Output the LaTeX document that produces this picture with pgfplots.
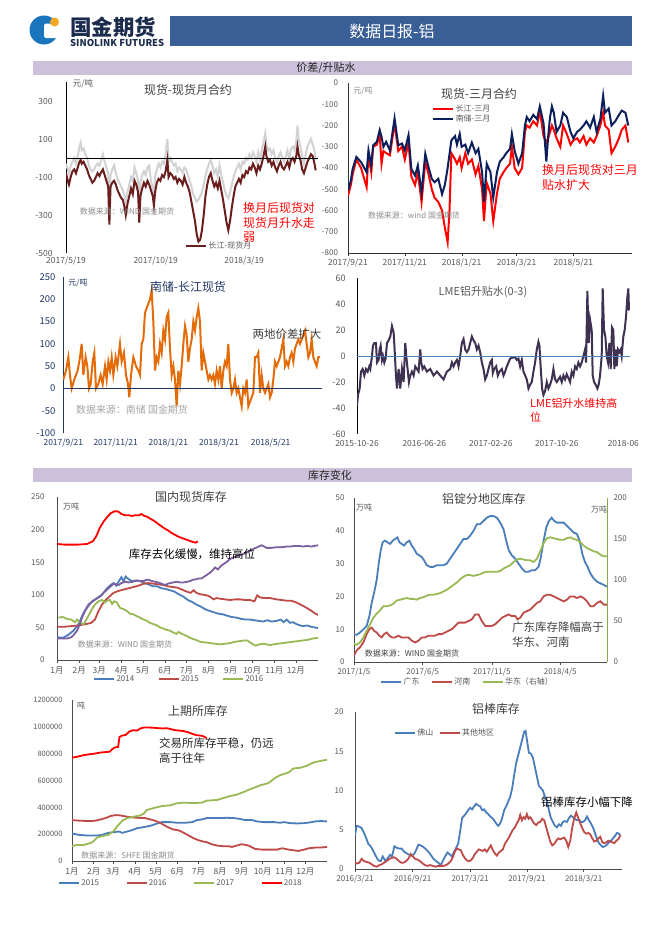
\documentclass[border=0pt]{standalone}
\usepackage{pgfplots}
\pgfplotsset{compat=1.18}
\usepackage{fontspec}
\setmainfont{Noto Sans CJK SC}
\newcommand{\fz}[1]{\fontsize{#1}{#1}\selectfont}
\definecolor{hdrblue}{HTML}{3A5F96}
\definecolor{lav}{HTML}{CCC1DA}
\definecolor{logoblue}{HTML}{1B75BC}
\definecolor{logoorg}{HTML}{F5A623}
\definecolor{logotxt}{HTML}{1A2B4C}
\definecolor{maroonx}{HTML}{6B1E1E}
\definecolor{lgray}{HTML}{D2D2D2}
\definecolor{navyx}{HTML}{0B1F5C}
\definecolor{orng}{HTML}{E36C09}
\definecolor{lmep}{HTML}{3F3151}
\definecolor{xblue}{HTML}{4A7EBB}
\definecolor{xbrick}{HTML}{BE4B48}
\definecolor{xgreen}{HTML}{98B954}
\definecolor{xolive}{HTML}{8AA84A}
\definecolor{xpurple}{HTML}{7D60A0}
\definecolor{navytxt}{HTML}{1F3864}
\definecolor{tgray}{HTML}{595959}
\definecolor{sgray}{HTML}{8C8C8C}
\definecolor{lsgray}{HTML}{A6A6A6}
\definecolor{tfour}{HTML}{404040}
\pgfplotsset{
  exl/.style={
    scale only axis, anchor=south west,
    /pgf/number format/assume math mode=true,
    tick label style={font=\fz{8.5}, text=tgray},
    axis line style={draw=black!70, line width=0.8bp},
    major tick length=0pt,
    legend style={draw=none, fill=none, font=\fz{8}, text=tgray, inner sep=0pt, row sep=-1bp, nodes={inner sep=1.5bp}},
    legend image code/.code={\draw[##1] (0bp,0bp) -- (20bp,0bp);},
    legend cell align=left,
  },
  datex/.style={
    xtick style={draw=black!70, line width=0.6bp}, ytick style={draw=none},
    major tick length=3bp, tick align=outside,
  },
}
\begin{document}
\begin{tikzpicture}
\path[use as bounding box, fill=white] (0bp,0bp) rectangle (662bp,-936bp);
% ---------- header ----------
\fill[logoblue] (44bp,-30bp) circle (14.5bp);
\fill[white, rounded corners=1.5bp] (44bp,-23.5bp) rectangle (60bp,-38bp);
\fill[logoorg] (54.5bp,-22bp) circle (4.5bp);
\node[font=\bfseries\fz{21.5}, text=logotxt, anchor=west, inner sep=0pt] at (70bp,-27bp) {国金期货};
\node[font=\bfseries\fz{9.5}, text=logotxt, anchor=west, inner sep=0pt] at (70bp,-43bp) {SINOLINK FUTURES};
\fill[hdrblue] (170bp,-16bp) rectangle (632bp,-46bp);
\node[text=white, font=\fz{16}] at (392bp,-31bp) {数据日报-铝};
\fill[lav] (33bp,-61bp) rectangle (632bp,-75bp);
\node[font=\fz{11}, text=black!85] at (326bp,-68bp) {价差/升贴水};
\fill[lav] (33bp,-468bp) rectangle (632bp,-482bp);
\node[font=\fz{11}, text=black!85] at (330bp,-475bp) {库存变化};

% ---------- A: 现货-现货月合约 ----------
\begin{axis}[exl, at={(66bp,-253bp)}, width=252bp, height=171bp,
  xmin=0, xmax=430, ymin=-500, ymax=400,
  axis x line*=bottom, axis y line*=left, x axis line style={draw=none},
  y axis line style={draw=black, line width=0.9bp},
  xtick={0,153,304}, xticklabels={2017/5/19,2017/10/19,2018/3/19},
  ytick={-500,-300,-100,100,300},
  yticklabel style={xshift=-10bp},
  legend style={at={(0.472,0.041)}, anchor=west},
]
\addplot[lgray, line width=2bp, forget plot] coordinates {(0,-30) (3,-60) (5,-80) (8,-40) (11,-20) (14,0) (17,-30) (20,10) (23,60) (25,80) (27,40) (30,50) (33,20) (36,0) (39,-40) (42,-60) (45,-70) (48,-60) (51,-40) (54,-30) (57,-40) (60,-10) (63,20) (66,-20) (69,-50) (72,-80) (74,-270) (76,-90) (79,-60) (82,-40) (85,-80) (88,-110) (91,-130) (94,-150) (97,-170) (100,-200) (102,-230) (105,-180) (108,-140) (111,-100) (114,-120) (117,-50) (120,-80) (123,-120) (125,-240) (127,-130) (130,-90) (133,-70) (136,-90) (139,-50) (142,-40) (145,-120) (148,-160) (150,-190) (152,-100) (155,-60) (158,-30) (161,-50) (164,-20) (167,-30) (170,20) (173,100) (175,-20) (178,0) (181,-20) (184,-40) (187,-30) (190,-70) (193,-50) (196,-60) (199,-80) (202,-50) (205,-60) (208,-90) (211,-120) (214,-150) (217,-190) (220,-210) (223,-230) (226,-220) (229,-200) (232,-180) (235,-140) (238,-90) (241,-60) (244,-30) (247,-10) (250,-40) (253,-80) (256,-60) (259,-100) (262,-40) (265,-90) (268,-130) (271,-170) (274,-200) (277,-210) (280,-180) (283,-140) (286,-100) (289,-70) (292,-50) (295,-30) (298,-60) (301,-20) (304,-30) (307,0) (310,-10) (313,20) (316,0) (319,30) (322,10) (325,-20) (328,30) (331,-10) (334,40) (337,80) (340,130) (342,70) (345,40) (348,50) (351,20) (354,40) (357,0) (360,-20) (363,10) (366,30) (369,0) (372,-20) (375,10) (378,40) (381,-10) (384,50) (387,60) (390,40) (393,90) (395,170) (397,100) (400,60) (403,10) (406,-30) (409,20) (412,60) (415,80) (418,100) (421,70) (424,40) (426,-10)};
\addplot[maroonx, line width=2bp] coordinates {(0,-80) (3,-120) (5,-140) (8,-100) (11,-70) (14,-60) (17,-80) (20,-50) (23,-20) (25,-10) (27,-30) (30,-20) (33,-40) (36,-60) (39,-90) (42,-110) (45,-130) (48,-120) (51,-100) (54,-80) (57,-95) (60,-75) (63,-60) (66,-90) (69,-120) (72,-150) (74,-350) (76,-150) (79,-130) (82,-120) (85,-140) (88,-170) (91,-190) (94,-210) (97,-220) (100,-260) (102,-300) (105,-240) (108,-200) (111,-160) (114,-190) (117,-120) (120,-140) (123,-180) (125,-340) (127,-200) (130,-160) (133,-130) (136,-150) (139,-120) (142,-140) (145,-170) (148,-200) (150,-250) (152,-180) (155,-130) (158,-110) (161,-120) (164,-90) (167,-100) (170,-70) (173,-10) (175,-100) (178,-80) (181,-90) (184,-110) (187,-100) (190,-130) (193,-110) (196,-120) (199,-140) (202,-100) (205,-130) (208,-150) (211,-180) (214,-230) (217,-280) (220,-330) (223,-400) (226,-440) (229,-430) (232,-380) (235,-300) (238,-200) (241,-140) (244,-100) (247,-80) (250,-120) (253,-150) (256,-130) (259,-160) (262,-120) (265,-170) (268,-220) (271,-280) (274,-340) (277,-380) (280,-330) (283,-260) (286,-200) (289,-150) (292,-130) (295,-110) (298,-130) (301,-90) (304,-100) (307,-70) (310,-80) (313,-50) (316,-60) (319,-30) (322,-50) (325,-80) (328,-40) (331,-60) (334,-30) (337,10) (340,60) (342,10) (345,-20) (348,-10) (351,-40) (354,-20) (357,-50) (360,-70) (363,-40) (366,-20) (369,-50) (372,-60) (375,-40) (378,-20) (381,-50) (384,-10) (387,0) (390,-20) (393,10) (395,60) (397,20) (400,-10) (403,-60) (406,-80) (409,-50) (412,-20) (415,0) (418,20) (421,10) (424,-30) (426,-65)};
\addlegendentry{长江-现货月}
\addplot[black, line width=0.9bp, forget plot] coordinates {(0,0) (430,0)};
\end{axis}

% ---------- B: 现货-三月合约 ----------
\begin{axis}[exl, at={(348bp,-253bp)}, width=284bp, height=170bp,
  xmin=0, xmax=305, ymin=-800, ymax=0,
  axis x line*=bottom, axis y line*=left,
  axis line style={draw=black!80, line width=0.9bp},
  xtick={0,61,122,181,242}, xticklabels={2017/9/21,2017/11/21,2018/1/21,2018/3/21,2018/5/21},
  ytick={-800,-700,...,0},
  yticklabel style={xshift=-4bp, font=\fz{8}},
  xtick style={draw=black!80}, ytick style={draw=none}, major tick length=2.5bp, tick align=outside,
  legend style={at={(0.296,0.882)}, anchor=north west},
]
\addplot[red, line width=2bp] coordinates {(0,-530) (3,-480) (5,-430) (9,-360) (14,-400) (20,-490) (22,-340) (25,-420) (27,-300) (31,-290) (34,-240) (36,-380) (38,-320) (41,-330) (45,-340) (50,-190) (54,-320) (58,-300) (61,-360) (65,-280) (68,-440) (72,-480) (75,-420) (79,-560) (83,-370) (86,-420) (90,-500) (93,-540) (97,-560) (101,-600) (104,-680) (107,-750) (109,-600) (111,-330) (115,-360) (117,-380) (120,-350) (122,-400) (126,-330) (129,-380) (133,-360) (137,-430) (140,-390) (144,-500) (146,-650) (149,-470) (153,-520) (156,-650) (160,-520) (163,-450) (167,-420) (170,-400) (174,-380) (176,-300) (179,-400) (183,-430) (187,-400) (190,-230) (192,-200) (195,-210) (199,-180) (203,-200) (206,-130) (210,-250) (213,-280) (215,-260) (217,-230) (219,-200) (221,-220) (224,-260) (228,-300) (231,-200) (235,-240) (239,-290) (242,-270) (246,-260) (249,-280) (253,-250) (256,-290) (260,-260) (264,-280) (267,-250) (271,-200) (274,-140) (276,-200) (280,-220) (283,-330) (287,-300) (291,-260) (294,-220) (298,-200) (301,-280)};
\addlegendentry{长江-三月}
\addplot[navyx, line width=2bp] coordinates {(0,-507) (3,-460) (5,-404) (9,-348) (14,-372) (20,-420) (22,-317) (25,-388) (27,-293) (31,-277) (34,-222) (36,-253) (38,-300) (41,-277) (45,-317) (50,-166) (54,-293) (58,-285) (61,-317) (65,-245) (68,-404) (72,-436) (75,-388) (79,-515) (83,-333) (86,-388) (90,-451) (93,-467) (97,-451) (101,-523) (104,-480) (107,-400) (111,-270) (115,-250) (117,-290) (120,-240) (122,-300) (126,-290) (129,-330) (133,-280) (137,-330) (140,-310) (144,-420) (146,-560) (149,-380) (153,-420) (156,-540) (160,-420) (163,-370) (167,-350) (170,-330) (174,-310) (176,-240) (179,-320) (183,-380) (187,-330) (190,-200) (192,-160) (195,-180) (199,-150) (203,-170) (206,-110) (210,-190) (213,-370) (215,-250) (217,-160) (219,-110) (221,-140) (224,-230) (228,-200) (231,-140) (235,-160) (239,-230) (242,-260) (246,-230) (249,-220) (253,-200) (256,-180) (260,-210) (264,-160) (267,-230) (271,-170) (274,-60) (276,-140) (280,-120) (283,-200) (287,-180) (291,-150) (294,-130) (298,-140) (301,-200)};
\addlegendentry{南储-三月}
\end{axis}

% ---------- C: 南储-长江现货 ----------
\begin{axis}[exl, at={(63bp,-433bp)}, width=259bp, height=156bp,
  xmin=99, xmax=876, ymin=-100, ymax=250,
  axis x line*=bottom, axis y line*=left, x axis line style={draw=none},
  y axis line style={draw=navytxt, line width=0.9bp},
  xtick={100,257,415,567,722}, xticklabels={2017/9/21,2017/11/21,2018/1/21,2018/3/21,2018/5/21},
  ytick={-100,-50,...,250},
  yticklabel style={font=\fz{9.5}, text=navytxt, xshift=-4bp},
  xticklabel style={font=\fz{8.5}, text=navytxt, yshift=-2.5bp},
]
\addplot[orng, line width=2bp] coordinates {(100,20) (108,40) (115,70) (120,30) (125,0) (133,20) (143,40) (150,70) (155,100) (160,30) (167,70) (172,50) (177,0) (182,10) (188,60) (193,80) (198,0) (205,10) (212,30) (218,10) (225,50) (230,20) (235,60) (240,40) (245,70) (250,30) (257,70) (262,50) (270,100) (275,60) (282,80) (288,30) (294,10) (298,-20) (303,30) (310,70) (318,50) (325,40) (330,30) (335,100) (340,110) (345,170) (350,180) (355,190) (360,200) (365,220) (370,150) (375,40) (380,70) (385,60) (390,100) (395,80) (400,130) (405,110) (410,160) (415,170) (420,90) (425,30) (430,50) (435,20) (440,-40) (445,40) (450,10) (455,50) (460,100) (465,140) (470,120) (475,60) (480,90) (485,110) (490,150) (495,130) (500,160) (505,180) (510,150) (515,40) (520,80) (525,60) (530,40) (535,20) (540,30) (545,20) (550,30) (555,10) (560,40) (565,20) (570,50) (575,0) (580,40) (585,60) (590,50) (595,100) (600,20) (605,-10) (610,0) (615,20) (620,-10) (625,0) (630,-20) (635,-40) (640,0) (645,-10) (650,20) (655,-40) (660,-30) (665,-20) (670,-10) (675,70) (680,70) (685,80) (690,-10) (695,30) (700,0) (705,-10) (710,0) (715,10) (720,-20) (725,-10) (730,20) (735,60) (740,50) (745,60) (750,70) (755,90) (760,110) (765,50) (770,60) (775,50) (780,70) (785,80) (790,60) (795,90) (800,100) (805,110) (810,100) (815,110) (820,120) (825,130) (830,100) (835,70) (840,80) (845,110) (850,70) (855,60) (860,50) (865,70) (870,70)};
\addplot[navytxt, line width=0.8bp] coordinates {(99,0) (876,0)};
\end{axis}

% ---------- D: LME ----------
\begin{axis}[exl, at={(357bp,-434bp)}, width=273bp, height=156bp,
  xmin=80, xmax=900, ymin=-60, ymax=60,
  axis x line*=bottom, axis y line*=left, x axis line style={draw=none},
  y axis line style={draw=black, line width=0.9bp},
  xtick={80,282,482,680,880}, xticklabels={2015-10-26,2016-06-26,2017-02-26,2017-10-26,2018-06},
  ytick={-60,-40,...,60},
  yticklabel style={font=\fz{9}, xshift=-8bp},
  xticklabel style={font=\fz{8.5}, yshift=-2.5bp},
]
\addplot[lmep, line width=2bp] coordinates {(80,-38) (83,-30) (88,-25) (92,-12) (97,-10) (102,-15) (107,-10) (112,-12) (117,-8) (120,-10) (125,0) (128,8) (132,10) (137,10) (140,-5) (145,-3) (148,5) (151,8) (155,-3) (158,0) (162,-5) (166,-2) (170,10) (175,12) (180,15) (185,23) (190,18) (193,5) (197,-15) (200,-25) (205,-10) (210,-25) (215,-10) (220,-20) (225,10) (228,0) (232,-10) (236,-20) (240,-15) (245,-12) (250,-15) (255,-8) (260,-10) (265,-12) (270,5) (273,-5) (277,-10) (282,-8) (290,-12) (300,-10) (310,-15) (320,-12) (330,-15) (340,-18) (345,-15) (350,-12) (360,-10) (365,-5) (370,-8) (375,-5) (380,-3) (385,-8) (390,0) (395,10) (400,13) (405,5) (410,3) (415,5) (420,10) (425,15) (430,12) (435,10) (440,5) (445,8) (450,3) (455,-5) (460,-10) (465,-18) (470,-15) (475,-10) (480,-5) (485,-3) (488,-13) (492,-10) (498,-8) (503,-15) (508,-12) (515,-10) (520,-15) (525,-12) (530,-8) (535,-5) (540,-2) (550,-1) (555,-1) (560,-3) (565,-2) (570,-8) (575,-3) (580,-12) (585,-15) (590,-18) (595,-25) (600,-22) (605,-20) (610,-12) (615,-5) (620,5) (625,11) (628,8) (632,-10) (636,-25) (640,-30) (645,-27) (650,-20) (655,-25) (660,-22) (665,-18) (670,-10) (675,-18) (680,-20) (685,-18) (690,-16) (695,-20) (700,-15) (705,-18) (710,-14) (715,-17) (720,-20) (725,-12) (730,-15) (735,-8) (740,-10) (745,-5) (750,-8) (755,-5) (760,0) (765,5) (768,-5) (772,50) (776,10) (780,28) (785,20) (788,-15) (792,-20) (797,-22) (802,-25) (806,-22) (810,-15) (815,0) (818,52) (822,20) (826,15) (830,0) (834,-5) (838,10) (842,-10) (846,22) (850,20) (853,-10) (857,5) (860,-8) (864,5) (868,3) (872,5) (875,0) (880,15) (884,20) (888,30) (892,45) (895,52) (897,35)};
\addplot[xblue, line width=0.8bp] coordinates {(80,0) (900,0)};
\end{axis}

% ---------- E: 国内现货库存 ----------
\begin{axis}[exl, datex, at={(57bp,-660bp)}, width=261bp, height=163bp,
  xmin=0, xmax=365, ymin=0, ymax=250,
  axis x line*=bottom, axis y line*=left,
  xtick={0,31,59,90,120,151,181,212,243,273,304,334},
  xticklabels={1月,2月,3月,4月,5月,6月,7月,8月,9月,10月,11月,12月},
  ytick={0,50,...,250},
  yticklabel style={xshift=-6bp, font=\fz{8}}, xticklabel style={font=\fz{8.5}},
  legend columns=3,
  legend style={at={(0.138,-0.117)}, anchor=west, /tikz/every even column/.append style={column sep=22bp}},
]
\addplot[xblue, line width=1.8bp] coordinates {(0,35) (8,34) (15,38) (23,45) (30,55) (37,72) (44,85) (50,90) (56,95) (63,100) (70,110) (75,115) (79,118) (83,114) (86,120) (90,127) (93,121) (96,128) (100,124) (105,121) (110,122) (116,121) (122,118) (128,116) (134,113) (140,113) (146,110) (152,109) (158,107) (164,105) (170,101) (177,97) (183,92) (189,89) (195,85) (201,82) (207,78) (214,75) (220,73) (226,71) (232,70) (238,68) (244,66) (251,65) (258,63) (264,62) (270,62) (276,61) (282,60) (288,59) (294,61) (300,59) (307,60) (313,62) (317,58) (321,62) (326,57) (330,58) (335,55) (340,53) (344,52) (350,53) (355,51) (360,50) (365,49)};
\addlegendentry{2014}
\addplot[xbrick, line width=1.8bp] coordinates {(0,51) (10,51) (20,52) (30,53) (40,55) (48,57) (53,62) (58,75) (63,85) (68,92) (74,98) (79,103) (86,106) (93,108) (100,110) (107,112) (114,114) (121,117) (128,118) (135,117) (142,116) (149,115) (155,113) (162,112) (168,111) (175,108) (181,105) (187,103) (191,107) (195,103) (200,101) (205,100) (210,99) (214,97) (219,93) (223,95) (228,94) (235,93) (242,92) (249,93) (256,93) (263,92) (270,92) (276,90) (280,99) (284,96) (290,95) (298,95) (307,93) (314,92) (321,91) (327,91) (333,89) (339,86) (344,83) (349,80) (355,76) (360,72) (365,69)};
\addlegendentry{2015}
\addplot[xgreen, line width=1.8bp] coordinates {(2,65) (8,66) (14,63) (20,62) (25,58) (28,62) (32,57) (37,55) (40,60) (46,72) (50,80) (53,85) (58,90) (63,92) (67,88) (70,91) (74,92) (77,86) (80,90) (84,88) (88,80) (93,78) (98,75) (102,71) (107,70) (112,67) (116,65) (121,62) (126,60) (130,57) (135,55) (140,53) (144,50) (149,48) (154,46) (158,45) (163,42) (167,40) (170,43) (175,40) (181,37) (186,34) (191,32) (196,30) (200,28) (207,27) (214,26) (221,25) (228,24) (235,25) (242,26) (249,28) (256,29) (262,30) (266,30) (270,27) (274,24) (278,22) (283,24) (288,25) (293,24) (298,23) (303,24) (309,25) (316,26) (323,27) (330,28) (337,29) (344,30) (351,31) (358,33) (365,34)};
\addlegendentry{2016}
\addplot[xpurple, line width=1.8bp, forget plot] coordinates {(0,33) (7,33) (14,33) (20,35) (23,38) (28,45) (32,55) (35,65) (39,75) (42,80) (46,86) (49,90) (55,94) (60,97) (65,103) (70,108) (74,112) (78,116) (81,117) (86,115) (90,118) (95,120) (100,119) (106,120) (112,122) (117,121) (121,121) (125,123) (128,123) (133,121) (138,120) (144,118) (151,115) (155,117) (158,118) (163,119) (167,120) (172,119) (177,119) (182,120) (186,121) (190,123) (195,124) (198,125) (202,125) (206,128) (209,130) (214,134) (218,138) (221,142) (225,139) (230,145) (234,148) (237,150) (241,154) (244,156) (248,158) (253,160) (259,162) (265,165) (270,168) (274,170) (280,173) (286,176) (290,174) (293,172) (300,172) (307,173) (314,173) (321,174) (327,174) (332,175) (338,175) (344,174) (350,175) (356,174) (360,175) (365,176)};
\addplot[red, line width=1.8bp, forget plot] coordinates {(0,178) (10,177) (20,177) (30,177) (42,178) (50,182) (55,190) (60,203) (65,212) (70,219) (75,225) (80,228) (85,228) (90,224) (95,222) (100,222) (105,221) (110,222) (115,222) (118,224) (122,221) (126,220) (130,217) (135,214) (140,210) (145,206) (150,202) (155,199) (160,195) (165,192) (170,189) (175,187) (180,185) (185,183) (190,181) (194,180) (197,182)};
\end{axis}

% ---------- F: 铝锭分地区库存 ----------
\begin{axis}[exl, datex, at={(354bp,-662bp)}, width=253bp, height=164bp,
  xmin=72, xmax=830, ymin=0, ymax=50,
  axis x line*=bottom, axis y line*=left,
  xtick={72,278,485,690}, xticklabels={2017/1/5,2017/6/5,2017/11/5,2018/4/5},
  ytick={0,10,...,50},
  yticklabel style={xshift=-3bp, font=\fz{8}}, xticklabel style={font=\fz{8}},
  legend columns=3,
  legend style={at={(0.103,-0.122)}, anchor=west, /tikz/every even column/.append style={column sep=10bp}},
]
\addplot[xblue, line width=1.8bp] coordinates {(72,8.5) (80,8.3) (90,9) (100,10) (110,11) (118,14) (125,18) (132,21) (140,25) (146,30) (152,34) (158,36.5) (165,37) (172,36.5) (180,36) (188,37) (195,37.5) (202,38) (208,36.5) (215,36) (222,35.5) (230,36.5) (238,37) (245,35.5) (252,34.5) (260,33) (268,32.5) (275,32) (282,31) (290,29.5) (300,29) (310,29) (320,29.5) (330,29.5) (340,29.5) (350,30) (360,31.5) (370,33) (380,34.5) (390,36) (400,37.5) (410,37.5) (420,38.5) (430,40) (440,42) (450,42) (460,43) (470,44) (480,44.5) (490,44.5) (500,44) (510,42.5) (520,40.5) (528,37) (536,34) (545,32.5) (555,31.5) (565,30) (575,28.5) (585,27.5) (595,27.5) (605,28) (615,28) (625,29) (632,32) (640,37) (648,41) (656,43) (664,44) (672,43) (680,42.5) (690,42.5) (700,42.5) (710,41.5) (720,40.5) (730,39.5) (740,39) (748,37) (756,33) (764,30.5) (772,29) (780,27) (790,25.5) (800,24.5) (810,24) (820,23.5) (830,23)};
\addlegendentry{广东}
\addplot[xbrick, line width=1.8bp] coordinates {(72,2) (80,3.5) (90,4.5) (100,6) (110,8.5) (118,10) (125,10.5) (132,9.5) (140,9) (148,8) (155,7.5) (162,8.5) (170,9) (178,8) (186,7.5) (195,7.5) (205,8) (215,7.5) (225,7.5) (235,7.5) (245,6.5) (255,6) (265,6.5) (275,7.5) (285,7.5) (295,8) (305,8) (315,8) (325,8.5) (335,8.5) (345,9) (355,9.5) (365,10) (375,11) (385,12) (395,12) (405,12) (415,12.5) (425,13) (435,14.5) (445,14.5) (455,12.5) (465,11) (475,11) (485,11) (495,11.5) (505,12.5) (515,13.5) (525,14) (535,14.5) (545,14) (555,14) (562,13) (570,13.5) (580,15) (590,15.5) (600,16) (610,17) (620,18) (630,18.5) (640,20) (650,20.5) (660,20.5) (670,20) (680,19.5) (690,19) (700,18.5) (710,19) (720,20) (730,20) (740,19.5) (750,20) (760,19.5) (770,18.5) (780,17) (790,17) (800,18) (810,18.5) (820,17.5) (830,17.5)};
\addlegendentry{河南}
\addlegendimage{xgreen, line width=1.8bp}
\addlegendentry{华东（右轴）}
\end{axis}
\begin{axis}[exl, at={(354bp,-662bp)}, width=253bp, height=164bp,
  xmin=72, xmax=830, ymin=0, ymax=200,
  axis x line=none, axis y line*=right,
  y axis line style={draw=xolive, line width=0.9bp},
  ytick={0,50,...,200}, ytick style={draw=none},
  yticklabel style={xshift=3bp, font=\fz{8}},
]
\addplot[xgreen, line width=1.8bp] coordinates {(72,22) (80,21) (90,24) (100,30) (110,38) (120,46) (130,54) (140,59) (150,63) (160,68) (170,68) (180,69) (190,71) (200,75) (210,76) (220,77) (230,78) (240,77) (250,77) (260,76) (270,78) (280,79) (290,81) (300,82) (310,82) (320,83) (330,84) (340,86) (350,88) (360,91) (370,94) (380,97) (390,101) (400,104) (410,106) (420,106) (430,105) (440,106) (450,107) (460,109) (470,110) (480,110) (490,110) (500,110) (510,111) (520,114) (530,116) (540,118) (550,122) (560,125) (570,126) (580,125) (590,124) (600,124) (610,122) (620,126) (630,135) (640,145) (650,151) (660,152) (670,151) (680,150) (690,149) (700,149) (710,151) (720,152) (730,150) (740,149) (750,146) (760,142) (770,139) (780,137) (790,135) (800,134) (810,131) (820,129) (830,129)};
\end{axis}

% ---------- G: 上期所库存 ----------
\begin{axis}[exl, datex, at={(72bp,-861bp)}, width=255bp, height=161bp,
  xmin=0, xmax=365, ymin=0, ymax=1200000,
  axis x line*=bottom, axis y line*=left,
  xtick={0,31,59,90,120,151,181,212,243,273,304,334},
  xticklabels={1月,2月,3月,4月,5月,6月,7月,8月,9月,10月,11月,12月},
  ytick={0,200000,...,1200000}, scaled y ticks=false,
  yticklabel style={/pgf/number format/fixed, /pgf/number format/1000 sep={}, xshift=-3bp, font=\fz{7.5}},
  xticklabel style={font=\fz{8.5}},
  legend columns=4,
  legend style={at={(-0.055,-0.137)}, anchor=west, /tikz/every even column/.append style={column sep=25bp}},
]
\addplot[xblue, line width=1.8bp] coordinates {(0,205000) (10,195000) (21,190000) (36,190000) (43,195000) (52,210000) (60,215000) (67,220000) (72,210000) (79,220000) (86,230000) (93,245000) (100,250000) (110,260000) (114,265000) (122,280000) (129,290000) (141,290000) (150,285000) (162,285000) (172,290000) (179,305000) (186,310000) (193,320000) (208,320000) (222,322000) (231,320000) (239,315000) (248,305000) (258,305000) (265,295000) (274,290000) (289,290000) (298,285000) (303,290000) (313,282000) (322,280000) (332,282000) (341,288000) (348,295000) (356,298000) (365,295000)};
\addlegendentry{2015}
\addplot[xbrick, line width=1.8bp] coordinates {(0,305000) (12,300000) (26,298000) (33,300000) (41,310000) (48,320000) (55,335000) (62,342000) (69,340000) (79,330000) (86,325000) (95,322000) (105,320000) (112,310000) (119,300000) (126,285000) (131,270000) (138,250000) (145,235000) (153,228000) (160,210000) (167,190000) (174,170000) (181,155000) (188,145000) (193,140000) (200,125000) (208,115000) (217,110000) (224,110000) (229,105000) (239,120000) (243,125000) (253,115000) (262,90000) (272,85000) (286,85000) (293,85000) (301,95000) (310,85000) (317,80000) (324,75000) (332,85000) (339,95000) (348,100000) (355,100000) (365,105000)};
\addlegendentry{2016}
\addplot[xgreen, line width=1.8bp] coordinates {(0,110000) (7,120000) (17,120000) (24,130000) (29,140000) (36,175000) (43,185000) (52,195000) (60,225000) (64,255000) (72,300000) (79,320000) (88,330000) (98,340000) (103,355000) (107,380000) (117,395000) (129,410000) (141,415000) (150,430000) (160,435000) (174,432000) (186,435000) (193,450000) (208,455000) (217,470000) (227,485000) (236,495000) (246,515000) (255,535000) (260,545000) (270,565000) (281,580000) (291,620000) (298,640000) (310,660000) (317,690000) (327,695000) (336,710000) (346,735000) (355,745000) (365,755000)};
\addlegendentry{2017}
\addplot[red, line width=1.8bp] coordinates {(0,770000) (8,778000) (16,788000) (24,795000) (32,800000) (40,808000) (48,812000) (54,815000) (58,835000) (62,848000) (66,850000) (68,925000) (72,935000) (77,940000) (82,965000) (88,975000) (93,972000) (98,988000) (103,995000) (110,995000) (117,993000) (124,990000) (130,988000) (136,990000) (142,982000) (148,975000) (154,972000) (160,968000) (166,960000) (172,948000) (178,938000) (184,935000) (189,928000) (193,915000)};
\addlegendentry{2018}
\end{axis}

% ---------- H: 铝棒库存 ----------
\begin{axis}[exl, datex, at={(355bp,-869bp)}, width=267bp, height=157bp,
  xmin=75, xmax=875, ymin=0, ymax=20,
  axis x line*=bottom, axis y line*=left,
  xtick={75,248,420,590,760}, xticklabels={2016/3/21,2016/9/21,2017/3/21,2017/9/21,2018/3/21},
  ytick={0,5,...,20},
  yticklabel style={xshift=-5bp, font=\fz{8}}, xticklabel style={font=\fz{8}},
  legend columns=2,
  legend style={at={(0.146,0.866)}, anchor=west, /tikz/every even column/.append style={column sep=4bp}},
]
\addplot[xblue, line width=1.8bp] coordinates {(75,4.3) (80,5.5) (88,5.4) (95,5.2) (102,4.6) (108,4.0) (115,3.2) (122,2.9) (130,2.3) (138,1.6) (145,1.1) (152,1.0) (158,1.6) (165,1.1) (172,1.3) (180,1.8) (186,1.6) (193,2.9) (200,2.7) (208,2.6) (215,2.6) (222,2.2) (230,2.0) (238,1.8) (245,1.7) (252,1.9) (258,2.4) (265,3.1) (272,3.0) (280,2.8) (288,2.5) (295,2.2) (302,1.8) (310,1.3) (318,1.0) (325,0.8) (332,0.5) (338,1.0) (345,1.6) (352,2.1) (358,1.9) (365,1.6) (372,2.2) (378,2.7) (384,3.2) (390,4.8) (396,6.5) (402,6.8) (408,7.1) (414,7.5) (420,7.8) (426,7.6) (432,8.0) (438,8.3) (444,8.1) (450,8.0) (456,7.5) (462,7.6) (468,7.2) (474,7.0) (480,6.7) (486,6.5) (492,6.2) (498,5.8) (504,5.5) (510,5.8) (516,6.5) (522,7.5) (528,8.0) (534,8.6) (540,9.2) (546,10.3) (552,12.0) (558,13.5) (564,14.5) (570,15.5) (576,16.5) (582,17.5) (586,17.6) (590,16.5) (596,14.8) (602,14.7) (608,14.2) (614,13.0) (620,11.8) (626,10.6) (632,10.3) (638,10.0) (644,9.2) (650,8.7) (656,7.5) (662,6.5) (668,6.0) (674,5.5) (680,5.3) (686,5.7) (692,5.5) (698,6.0) (704,6.1) (710,6.0) (716,6.5) (722,6.8) (728,6.6) (734,6.4) (740,6.2) (746,6.3) (752,6.0) (758,6.0) (764,6.2) (770,6.7) (776,6.2) (782,5.8) (788,5.3) (794,4.6) (800,3.8) (806,3.3) (812,3.0) (818,2.8) (824,2.9) (830,3.1) (836,3.4) (842,3.6) (848,3.9) (854,4.2) (860,4.6) (866,4.5) (870,4.2)};
\addlegendentry{佛山}
\addplot[xbrick, line width=1.8bp] coordinates {(75,0.8) (82,0.7) (88,0.8) (95,1.3) (102,1.0) (110,0.9) (118,0.8) (125,0.6) (132,0.4) (140,0.3) (148,0.5) (155,0.6) (162,0.8) (170,1.0) (178,1.3) (185,1.4) (192,1.5) (200,1.3) (207,1.0) (214,0.8) (220,0.8) (228,1.0) (235,1.3) (242,1.9) (248,1.6) (255,1.3) (262,1.2) (270,1.0) (278,0.7) (285,0.5) (292,0.4) (300,0.5) (308,0.4) (316,0.3) (324,0.4) (332,0.4) (340,0.4) (348,0.5) (355,0.7) (362,1.0) (368,1.5) (374,2.2) (380,2.6) (386,2.5) (392,2.4) (398,1.8) (404,1.4) (410,1.1) (416,1.0) (422,1.1) (428,1.4) (434,1.9) (440,2.2) (446,2.5) (452,2.4) (458,2.3) (464,2.5) (470,2.2) (476,2.6) (482,3.0) (488,2.4) (494,2.0) (500,1.7) (506,2.1) (512,2.3) (518,2.5) (524,3.2) (530,3.6) (536,4.0) (542,4.5) (548,5.0) (554,5.3) (560,5.8) (566,6.3) (570,6.9) (575,6.2) (580,6.6) (585,6.4) (590,7.0) (595,6.4) (600,6.6) (606,6.2) (612,5.8) (618,5.6) (624,5.9) (630,6.0) (636,6.4) (642,6.2) (648,5.3) (654,4.4) (660,3.5) (666,3.0) (672,3.2) (678,3.6) (684,3.9) (690,3.8) (696,3.9) (702,4.0) (708,3.6) (714,2.8) (720,3.6) (726,5.3) (732,6.5) (738,7.2) (744,6.5) (750,5.8) (756,5.2) (762,4.7) (768,4.5) (774,4.6) (780,4.4) (786,3.9) (792,3.5) (798,3.6) (804,3.9) (810,4.1) (816,3.4) (822,3.3) (828,3.4) (834,3.6) (840,3.5) (846,3.4) (852,3.3) (858,3.6) (864,3.8) (870,4.3)};
\addlegendentry{其他地区}
\end{axis}

% ---------- texts ----------
% A
\node[font=\fz{12}, text=tfour] at (188bp,-90bp) {现货-现货月合约};
\node[font=\fz{8.5}, text=tgray] at (83bp,-84bp) {元/吨};
\node[font=\fz{8}, text=sgray] at (127bp,-211bp) {数据来源：WIND 国金期货};
\node[font=\fontsize{12}{14.5}\selectfont, text=red, anchor=west, align=left, inner sep=0pt] at (243bp,-222.5bp) {换月后现货对\\现货月升水走\\弱};
% B
\node[font=\fz{12}, text=tfour] at (479bp,-94bp) {现货-三月合约};
\node[font=\fz{8}, text=sgray] at (363bp,-91bp) {元/吨};
\node[font=\fz{8}, text=sgray] at (414bp,-215bp) {数据来源：wind 国金期货};
\node[font=\fontsize{12}{15}\selectfont, text=red, anchor=west, align=left, inner sep=0pt] at (542bp,-177.5bp) {换月后现货对三月\\贴水扩大};
% C
\node[font=\fz{12}, text=navytxt] at (188bp,-287bp) {南储-长江现货};
\node[font=\fz{8}, text=navytxt] at (78bp,-283bp) {元/吨};
\node[font=\fz{11.5}, text=tfour] at (287bp,-334bp) {两地价差扩大};
\node[font=\fz{10}, text=lsgray] at (132bp,-410bp) {数据来源：南储 国金期货};
% D
\node[font=\fz{11}, text=tgray] at (483bp,-292bp) {LME铝升贴水(0-3)};
\node[font=\fontsize{11}{14}\selectfont, text=red, anchor=west, align=left, inner sep=0pt] at (530bp,-410bp) {LME铝升水维持高\\位};
% E
\node[font=\fz{12}, text=tfour] at (191bp,-497bp) {国内现货库存};
\node[font=\fz{8}, text=tgray] at (71bp,-506bp) {万吨};
\node[font=\fz{11.5}, text=black] at (192bp,-554bp) {库存去化缓慢，维持高位};
\node[font=\fz{8}, text=sgray] at (125bp,-644bp) {数据来源：WIND 国金期货};
% F
\node[font=\fz{12}, text=tfour] at (484bp,-499bp) {铝锭分地区库存};
\node[font=\fz{8}, text=tgray] at (364bp,-507bp) {万吨};
\node[font=\fz{8}, text=tgray] at (599bp,-509bp) {万吨};
\node[font=\fontsize{11.5}{15}\selectfont, text=tfour, anchor=west, align=left, inner sep=0pt] at (512bp,-634.5bp) {广东库存降幅高于\\华东、河南};
\node[font=\fz{8}, text=tfour] at (412bp,-653bp) {数据来源：WIND 国金期货};
% G
\node[font=\fz{12}, text=tfour] at (198bp,-711bp) {上期所库存};
\node[font=\fz{8}, text=tgray] at (81bp,-705bp) {吨};
\node[font=\fontsize{11.5}{15}\selectfont, text=black!85, anchor=west, align=left, inner sep=0pt] at (159bp,-750.5bp) {交易所库存平稳，仍远\\高于往年};
\node[font=\fz{8}, text=sgray] at (128bp,-855bp) {数据来源：SHFE 国金期货};
% H
\node[font=\fz{12}, text=tfour] at (496bp,-709bp) {铝棒库存};
\node[font=\fz{11.5}, text=black, anchor=west, inner sep=0pt] at (541bp,-802bp) {铝棒库存小幅下降};
\end{tikzpicture}
\end{document}
